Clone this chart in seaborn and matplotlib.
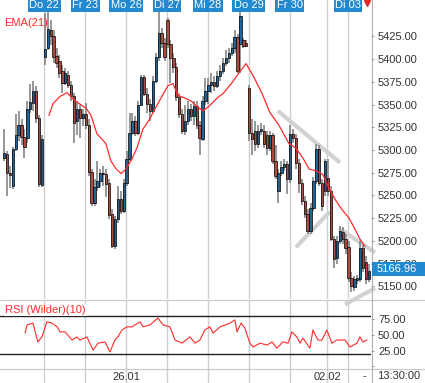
import matplotlib
matplotlib.use("Agg")
import matplotlib.pyplot as plt
import matplotlib.transforms as mtransforms
from matplotlib.lines import Line2D
from matplotlib.patches import Rectangle
import seaborn as sns
import pandas as pd

# ---- values (hourly bars, DAX-like index) ----
day_labels = ["Do 22", "Fr 23", "Mo 26", "Di 27", "Mi 28", "Do 29", "Fr 30", "", "Di 03"]
day_starts = [14, 28, 42, 56, 70, 84, 98, 111, 118]
bottom_labels = ["26.01", "02.02"]
bottom_label_pos = [42, 111]

opens = [5291, 5296, 5275, 5260, 5301, 5317, 5328, 5314, 5313, 5345,
         5352, 5365, 5335, 5261, 5402, 5412, 5432, 5425, 5403, 5398,
         5387, 5374, 5383, 5371, 5359, 5332, 5345, 5335, 5340, 5328,
         5276, 5242, 5259, 5266, 5275, 5274, 5264, 5229, 5194, 5224,
         5246, 5233, 5264, 5290, 5319, 5332, 5319, 5350, 5380, 5362,
         5351, 5343, 5376, 5402, 5429, 5418, 5443, 5417, 5401, 5391,
         5358, 5340, 5321, 5332, 5345, 5337, 5348, 5328, 5312, 5354,
         5365, 5371, 5375, 5370, 5381, 5387, 5396, 5401, 5407, 5412,
         5424, 5417, 5421, 5418, 5368, 5319, 5321, 5307, 5321, 5321,
         5316, 5302, 5316, 5288, 5255, 5275, 5281, 5285, 5268, 5318,
         5313, 5286, 5264, 5244, 5229, 5211, 5236, 5266, 5301, 5264,
         5255, 5269, 5255, 5202, 5181, 5200, 5210, 5202, 5193, 5159,
         5149, 5157, 5158, 5192, 5177, 5158]
highs = [5323, 5299, 5282, 5303, 5340, 5343, 5334, 5323, 5354, 5373,
         5376, 5370, 5338, 5317, 5451, 5459, 5443, 5432, 5412, 5404,
         5393, 5390, 5387, 5376, 5363, 5354, 5350, 5345, 5352, 5334,
         5279, 5268, 5288, 5279, 5282, 5279, 5268, 5235, 5227, 5260,
         5255, 5268, 5299, 5341, 5341, 5337, 5354, 5383, 5382, 5368,
         5356, 5381, 5407, 5459, 5434, 5423, 5445, 5421, 5407, 5396,
         5363, 5345, 5349, 5354, 5351, 5354, 5354, 5332, 5359, 5379,
         5379, 5385, 5381, 5387, 5394, 5401, 5410, 5412, 5418, 5432,
         5428, 5457, 5423, 5421, 5371, 5334, 5332, 5327, 5330, 5327,
         5321, 5321, 5319, 5305, 5279, 5288, 5290, 5288, 5327, 5323,
         5318, 5290, 5268, 5249, 5235, 5242, 5270, 5307, 5305, 5268,
         5290, 5290, 5260, 5205, 5205, 5216, 5215, 5208, 5200, 5166,
         5161, 5162, 5200, 5195, 5183, 5175]
lows = [5288, 5249, 5258, 5257, 5299, 5310, 5305, 5291, 5308, 5341,
        5343, 5330, 5259, 5259, 5393, 5410, 5415, 5396, 5390, 5379,
        5363, 5371, 5368, 5354, 5308, 5316, 5313, 5326, 5323, 5271,
        5238, 5238, 5255, 5259, 5260, 5248, 5224, 5192, 5191, 5220,
        5229, 5231, 5260, 5288, 5316, 5315, 5317, 5348, 5359, 5341,
        5332, 5341, 5374, 5398, 5412, 5398, 5412, 5374, 5385, 5354,
        5335, 5318, 5317, 5327, 5332, 5328, 5323, 5294, 5310, 5349,
        5351, 5363, 5365, 5368, 5376, 5384, 5392, 5396, 5403, 5407,
        5385, 5385, 5412, 5413, 5310, 5294, 5299, 5302, 5316, 5302,
        5294, 5299, 5285, 5268, 5242, 5271, 5277, 5252, 5264, 5308,
        5279, 5253, 5239, 5225, 5207, 5207, 5233, 5263, 5260, 5233,
        5249, 5249, 5200, 5170, 5175, 5196, 5197, 5186, 5155, 5144,
        5145, 5152, 5155, 5166, 5153, 5155]
closes = [5297, 5275, 5272, 5301, 5317, 5328, 5314, 5303, 5345, 5353,
          5365, 5335, 5263, 5312, 5411, 5433, 5425, 5402, 5396, 5385,
          5374, 5385, 5372, 5359, 5330, 5345, 5335, 5340, 5328, 5276,
          5242, 5259, 5266, 5275, 5274, 5263, 5228, 5194, 5224, 5246,
          5233, 5264, 5290, 5319, 5332, 5319, 5350, 5380, 5362, 5351,
          5343, 5376, 5402, 5429, 5418, 5402, 5417, 5401, 5391, 5358,
          5340, 5321, 5332, 5345, 5337, 5348, 5328, 5313, 5354, 5365,
          5371, 5375, 5370, 5381, 5387, 5396, 5401, 5407, 5412, 5424,
          5387, 5447, 5414, 5414, 5319, 5312, 5307, 5321, 5323, 5307,
          5302, 5316, 5288, 5271, 5275, 5281, 5285, 5268, 5318, 5313,
          5286, 5264, 5244, 5229, 5211, 5236, 5266, 5301, 5264, 5238,
          5288, 5255, 5202, 5180, 5200, 5211, 5202, 5192, 5159, 5150,
          5158, 5159, 5192, 5170, 5158, 5166.96]

ema_idx = [15.4, 16.8, 19.2, 21.6, 24.3, 28.1, 29.8, 31.8, 34.9, 36.6,
           38.4, 40.1, 41.8, 43.8, 45.5, 47.6, 49.7, 52.7, 56.2, 57.9,
           59.6, 62.0, 64.0, 66.4, 68.2, 70.5, 73.3, 75.0, 78.1, 80.5,
           82.9, 85.6, 88.4, 91.1, 94.2, 97.6, 100.0, 102.4, 104.5, 106.8,
           109.2, 111.3, 113.7, 116.1, 118.2, 120.5, 121.9, 123.6]
ema_vals = [5338, 5351, 5359, 5363, 5354, 5346, 5338, 5318, 5307, 5288,
            5279, 5274, 5279, 5290, 5302, 5323, 5333, 5351, 5371, 5373,
            5360, 5357, 5354, 5347, 5343, 5349, 5358, 5362, 5374, 5385,
            5395, 5380, 5362, 5341, 5327, 5307, 5302, 5291, 5279, 5277,
            5273, 5258, 5244, 5233, 5225, 5211, 5202, 5194]

rsi_idx = [7.2, 7.9, 9.9, 11.6, 13.0, 14.7, 16.4, 18.2, 19.2, 20.9,
           23.3, 25.0, 26.0, 28.4, 30.5, 32.2, 34.6, 36.3, 38.0, 39.0,
           40.4, 42.1, 43.8, 46.6, 47.6, 50.0, 52.7, 54.5, 56.8, 58.6,
           61.0, 63.7, 65.4, 67.1, 68.8, 70.5, 71.6, 74.0, 77.4, 79.1,
           79.8, 81.2, 82.5, 84.2, 85.3, 87.7, 90.1, 91.8, 93.5, 95.5,
           97.3, 98.6, 100.3, 101.4, 102.4, 104.8, 105.8, 107.5, 108.9, 110.6,
           112.3, 114.0, 116.8, 118.5, 120.9, 121.9, 122.9, 124.3]
rsi_vals = [53, 66, 69, 39, 47, 71, 69, 63, 55, 55,
            42, 47, 42, 47, 26, 37, 39, 23, 42, 47,
            58, 63, 63, 71, 63, 66, 77, 66, 63, 42,
            37, 47, 37, 42, 58, 63, 53, 63, 69, 74,
            55, 69, 61, 37, 31, 37, 34, 39, 29, 39,
            37, 55, 47, 37, 45, 29, 58, 42, 42, 58,
            37, 42, 42, 31, 37, 47, 39, 42]

price_ticks = [5150, 5175, 5200, 5225, 5250, 5275, 5300, 5325, 5350, 5375, 5400, 5425]
rsi_ticks = [0, 25, 50, 75]
rsi_levels = [20, 80]
last_price = 5166.96

# hand-drawn channel lines (start/end in bar index and price)
trend_x = [[93.8, 115.1], [100.0, 111.6], [114.7, 127.1], [116.8, 127.1]]
trend_y = [[5343, 5286], [5193, 5232], [5214, 5187], [5130, 5148]]

UP = "#1f6399"
DOWN = "#ad4a40"
RED = "#ff2b2b"
GRID = "#cfcfcf"
LABEL_BLUE = "#2389cf"
TXT = "#333333"

sns.set_theme(style="white")
plt.rcParams['font.family'] = ['Liberation Sans', 'DejaVu Sans']

W, H = 425, 383
fig = plt.figure(figsize=(W / 100, H / 100), dpi=100)
fig.patch.set_facecolor("white")

ax = fig.add_axes([0, 1 - 299 / H, 371 / W, 299 / H])
ax_rsi = fig.add_axes([0, 1 - 369 / H, 371 / W, 69 / H])
ax_bot = fig.add_axes([0, 0, 371 / W, 14 / H])

xlim = (-1.37, 125.7)
for a in (ax, ax_rsi, ax_bot):
    a.set_xlim(*xlim)
    a.set_xticks([])
    for s in a.spines.values():
        s.set_visible(False)
    for d in day_starts:
        a.axvline(d - 0.2, color=GRID, lw=1.0, zorder=0)
ax_rsi.patch.set_alpha(0)
ax_bot.patch.set_alpha(0)
ax_bot.set_yticks([])
ax_bot.set_ylim(0, 1)

# ---- candles ----
df = pd.DataFrame({"o": opens, "h": highs, "l": lows, "c": closes})
df["i"] = range(len(df))
df["bottom"] = df[["o", "c"]].min(axis=1)
df["height"] = (df["c"] - df["o"]).abs().clip(lower=0.8)
df["color"] = [UP if c >= o else DOWN for o, c in zip(df["o"], df["c"])]

ax.vlines(df["i"], df["l"], df["h"], color="#858585", lw=1.2, zorder=2)
ax.bar(df["i"], df["height"], bottom=df["bottom"], width=0.8,
       color=df["color"], edgecolor="black", linewidth=0.5, zorder=3)

sns.lineplot(x=ema_idx, y=ema_vals, ax=ax, color=RED, lw=0.9, zorder=4)

for xs, ys in zip(trend_x, trend_y):
    ax.plot(xs, ys, color="#d2d2d2", lw=3, solid_capstyle="butt",
            zorder=1, clip_on=False)

ax.set_ylim(5136, 5465)
ax.yaxis.tick_right()
ax.set_yticks(price_ticks)
ax.set_yticklabels([f"{v:.2f}" for v in price_ticks])
ax.tick_params(axis="y", length=2, width=0.8, color="#999999", pad=3,
               labelsize=8, labelcolor=TXT)
ax.set_xlabel("")
ax.set_ylabel("")

ax.text(4 / 371, 1 - 22.5 / 299, "EMA(21)", transform=ax.transAxes,
        color=RED, fontsize=8, va="center", ha="left")

# day labels on top
trans = mtransforms.blended_transform_factory(ax.transData, ax.transAxes)
for d, lab in zip(day_starts, day_labels):
    if lab:
        ax.text(d - 0.2, 1 - 5.5 / 299, lab, transform=trans, ha="center",
                va="center", color="white", fontsize=8, zorder=6,
                bbox=dict(boxstyle="square,pad=0.12", fc=LABEL_BLUE, ec="none"))

# ---- RSI ----
sns.lineplot(x=rsi_idx, y=rsi_vals, ax=ax_rsi, color=RED, lw=0.8, zorder=3)
for lv in rsi_levels:
    ax_rsi.axhline(lv, color="#222222", lw=1.0, zorder=2)
ax_rsi.set_ylim(-4.1, 105.7)
ax_rsi.yaxis.tick_right()
ax_rsi.set_yticks(rsi_ticks)
ax_rsi.set_yticklabels(["" if v == 0 else f"{v:.2f}" for v in rsi_ticks])
ax_rsi.tick_params(axis="y", length=2, width=0.8, color="#999999", pad=3,
                   labelsize=8, labelcolor=TXT)
ax_rsi.set_xlabel("")
ax_rsi.set_ylabel("")
ax_rsi.text(5 / 371, 1 - 10 / 69, "RSI (Wilder)(10)", transform=ax_rsi.transAxes,
            color=RED, fontsize=8, va="center", ha="left", zorder=5,
            bbox=dict(boxstyle="square,pad=0.1", fc="white", ec="none"))

# ---- bottom time strip ----
for p, lab in zip(bottom_label_pos, bottom_labels):
    ax_bot.text(p - 0.2, 0.45, lab, ha="center", va="center",
                fontsize=8, color=TXT)
fig.text(364 / W, 1 - 376 / H, "-", ha="center", va="center", fontsize=8, color=TXT)
fig.text(377 / W, 1 - 376 / H, "13:30:00", ha="left", va="center", fontsize=8, color=TXT)

# panel frame lines
fig.add_artist(Line2D([0, 1], [1 - 299.5 / H] * 2, color="#c8c8c8", lw=0.8))
fig.add_artist(Line2D([0, 1], [1 - 369 / H] * 2, color="#c8c8c8", lw=0.8))
fig.add_artist(Line2D([371.5 / W] * 2, [0, 1], color="#b0b0b0", lw=0.8))

# current price box
fig.add_artist(Rectangle((372 / W, 1 - 276 / H), 53 / W, 14 / H,
                         transform=fig.transFigure, fc="#1f8ad2", ec="none", zorder=5))
fig.text(377 / W, 1 - 269 / H, f"{last_price:.2f}", ha="left", va="center",
         fontsize=8, color="white", zorder=6)

# little red marker at the top right
fig.add_artist(Line2D([367 / W], [1 - 2.5 / H], marker="v", ms=4,
                      color="#e02828", lw=0))

fig.savefig("out.png", dpi=100)
